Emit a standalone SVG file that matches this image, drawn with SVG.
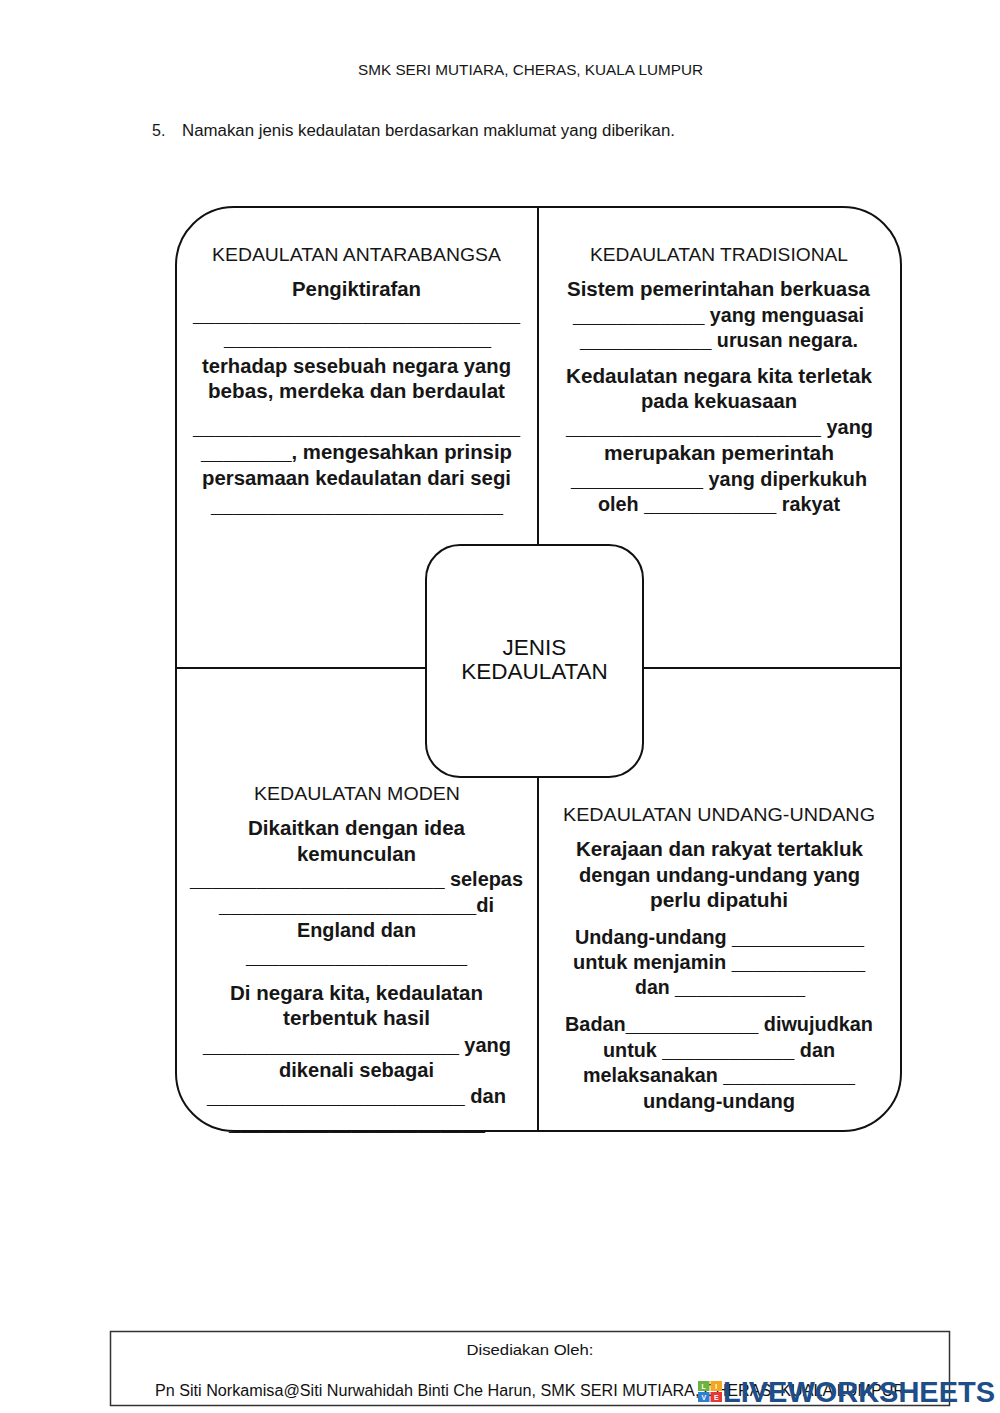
<svg xmlns="http://www.w3.org/2000/svg" width="1000" height="1413" viewBox="0 0 1000 1413">
<style>
text{font-family:"Liberation Sans",Arial,sans-serif;fill:#161616}
.h{font-size:19px;text-anchor:middle}
.b{font-size:20px;font-weight:bold;text-anchor:middle}
.c{font-size:22.5px;text-anchor:middle;fill:#111}
.ln{stroke:#111;stroke-width:2;fill:none}
.hw{font-size:15px;fill:#111}
.sq{font-size:7px;font-weight:bold;fill:#fff;text-anchor:middle}
</style>
<rect width="1000" height="1413" fill="#fff"/>
<g id="page-header">
<text x="530.5" y="75" style="font-size:15px" text-anchor="middle" textLength="345" lengthAdjust="spacingAndGlyphs">SMK SERI MUTIARA, CHERAS, KUALA LUMPUR</text>
<text x="152" y="136" style="font-size:16px">5.</text>
<text x="182" y="136" style="font-size:16px" textLength="493" lengthAdjust="spacingAndGlyphs">Namakan jenis kedaulatan berdasarkan maklumat yang diberikan.</text>
</g>
<g id="frame">
<rect x="176" y="207" width="725" height="924" rx="58" ry="58" class="ln"/>
</g>
<g id="connectors">
<line x1="538" y1="207" x2="538" y2="545" class="ln"/>
<line x1="538" y1="777" x2="538" y2="1131" class="ln"/>
<line x1="176" y1="668" x2="426" y2="668" class="ln"/>
<line x1="643" y1="668" x2="901" y2="668" class="ln"/>
</g>
<g id="node-center">
<rect x="426" y="545" width="217" height="232" rx="34" ry="34" class="ln" fill="#fff"/>
<text x="534.5" y="655" class="c">JENIS</text>
<text x="534.5" y="679" class="c">KEDAULATAN</text>
</g>
<g id="node-antarabangsa">
<text x="356.5" y="261" class="h" textLength="289" lengthAdjust="spacingAndGlyphs">KEDAULATAN ANTARABANGSA</text>
<text x="356.5" y="296" class="b" textLength="129" lengthAdjust="spacingAndGlyphs">Pengiktirafan</text>
<text x="356.5" y="321" class="b" textLength="327" lengthAdjust="spacingAndGlyphs">_____________________________</text>
<text x="357.5" y="345" class="b" textLength="267" lengthAdjust="spacingAndGlyphs">________________________</text>
<text x="356.5" y="373" class="b" textLength="309" lengthAdjust="spacingAndGlyphs">terhadap sesebuah negara yang</text>
<text x="356.5" y="398" class="b" textLength="297" lengthAdjust="spacingAndGlyphs">bebas, merdeka dan berdaulat</text>
<text x="356.5" y="434" class="b" textLength="327" lengthAdjust="spacingAndGlyphs">_____________________________</text>
<text x="356.5" y="459" class="b" textLength="311" lengthAdjust="spacingAndGlyphs">________, mengesahkan prinsip</text>
<text x="356.5" y="485" class="b" textLength="309" lengthAdjust="spacingAndGlyphs">persamaan kedaulatan dari segi</text>
<text x="357" y="512" class="b" textLength="292" lengthAdjust="spacingAndGlyphs">__________________________</text>
</g>
<g id="node-tradisional">
<text x="719" y="261" class="h" textLength="258" lengthAdjust="spacingAndGlyphs">KEDAULATAN TRADISIONAL</text>
<text x="718.5" y="296" class="b" textLength="303" lengthAdjust="spacingAndGlyphs">Sistem pemerintahan berkuasa</text>
<text x="718.5" y="322" class="b" textLength="291" lengthAdjust="spacingAndGlyphs">____________ yang menguasai</text>
<text x="719" y="347" class="b" textLength="278" lengthAdjust="spacingAndGlyphs">____________ urusan negara.</text>
<text x="719" y="383" class="b" textLength="306" lengthAdjust="spacingAndGlyphs">Kedaulatan negara kita terletak</text>
<text x="719" y="408" class="b" textLength="156" lengthAdjust="spacingAndGlyphs">pada kekuasaan</text>
<text x="719.5" y="434" class="b" textLength="307" lengthAdjust="spacingAndGlyphs">_______________________ yang</text>
<text x="719" y="460" class="b" textLength="230" lengthAdjust="spacingAndGlyphs">merupakan pemerintah</text>
<text x="719" y="486" class="b" textLength="296" lengthAdjust="spacingAndGlyphs">____________ yang diperkukuh</text>
<text x="719" y="511" class="b" textLength="242" lengthAdjust="spacingAndGlyphs">oleh ____________ rakyat</text>
</g>
<g id="node-moden">
<text x="357" y="800" class="h" textLength="206" lengthAdjust="spacingAndGlyphs">KEDAULATAN MODEN</text>
<text x="356.5" y="835" class="b" textLength="217" lengthAdjust="spacingAndGlyphs">Dikaitkan dengan idea</text>
<text x="356.5" y="861" class="b" textLength="119" lengthAdjust="spacingAndGlyphs">kemunculan</text>
<text x="356.5" y="886" class="b" textLength="333" lengthAdjust="spacingAndGlyphs">_______________________ selepas</text>
<text x="356.5" y="912" class="b" textLength="275" lengthAdjust="spacingAndGlyphs">_______________________di</text>
<text x="356.5" y="937" class="b" textLength="119" lengthAdjust="spacingAndGlyphs">England dan</text>
<text x="356.5" y="963" class="b" textLength="221" lengthAdjust="spacingAndGlyphs">____________________</text>
<text x="356.5" y="1000" class="b" textLength="253" lengthAdjust="spacingAndGlyphs">Di negara kita, kedaulatan</text>
<text x="356.5" y="1025" class="b" textLength="147" lengthAdjust="spacingAndGlyphs">terbentuk hasil</text>
<text x="357" y="1052" class="b" textLength="308" lengthAdjust="spacingAndGlyphs">_______________________ yang</text>
<text x="356.5" y="1077" class="b" textLength="155" lengthAdjust="spacingAndGlyphs">dikenali sebagai</text>
<text x="356.5" y="1103" class="b" textLength="299" lengthAdjust="spacingAndGlyphs">_______________________ dan</text>
<text x="357" y="1129.5" class="b" textLength="256" lengthAdjust="spacingAndGlyphs">_______________________</text>
</g>
<g id="node-undang-undang">
<text x="719" y="821" class="h" textLength="312" lengthAdjust="spacingAndGlyphs">KEDAULATAN UNDANG-UNDANG</text>
<text x="719.5" y="856" class="b" textLength="287" lengthAdjust="spacingAndGlyphs">Kerajaan dan rakyat tertakluk</text>
<text x="719.5" y="882" class="b" textLength="281" lengthAdjust="spacingAndGlyphs">dengan undang-undang yang</text>
<text x="719" y="907" class="b" textLength="138" lengthAdjust="spacingAndGlyphs">perlu dipatuhi</text>
<text x="719.5" y="944" class="b" textLength="289" lengthAdjust="spacingAndGlyphs">Undang-undang ____________</text>
<text x="719" y="969" class="b" textLength="292" lengthAdjust="spacingAndGlyphs">untuk menjamin ____________</text>
<text x="720" y="994" class="b" textLength="170" lengthAdjust="spacingAndGlyphs">dan ____________</text>
<text x="719" y="1031" class="b" textLength="308" lengthAdjust="spacingAndGlyphs">Badan____________ diwujudkan</text>
<text x="719" y="1057" class="b" textLength="232" lengthAdjust="spacingAndGlyphs">untuk ____________ dan</text>
<text x="719" y="1082" class="b" textLength="272" lengthAdjust="spacingAndGlyphs">melaksanakan ____________</text>
<text x="719" y="1108" class="b" textLength="152" lengthAdjust="spacingAndGlyphs">undang-undang</text>
</g>
<g id="footer">
<rect x="110.5" y="1331.5" width="839" height="74" fill="none" stroke="#333" stroke-width="1.5"/>
<text x="530" y="1355" class="hw" text-anchor="middle" textLength="127" lengthAdjust="spacingAndGlyphs">Disediakan Oleh:</text>
<text x="155" y="1396" class="hw" style="font-size:16px" textLength="750" lengthAdjust="spacingAndGlyphs">Pn Siti Norkamisa@Siti Nurwahidah Binti Che Harun, SMK SERI MUTIARA, CHERAS, KUALA LUMPUR</text>
</g>
<g id="watermark">
<rect x="698" y="1381" width="11.5" height="10" fill="#6cb33f"/>
<rect x="710.5" y="1381" width="11.5" height="10" fill="#f5a623"/>
<rect x="698" y="1392" width="11.5" height="10" fill="#2f7fd1"/>
<rect x="710.5" y="1392" width="11.5" height="10" fill="#e53935"/>
<text x="703.75" y="1388.5" class="sq">L</text>
<text x="716.25" y="1388.5" class="sq">I</text>
<text x="703.75" y="1399.5" class="sq">V</text>
<text x="716.25" y="1399.5" class="sq">E</text>
<text x="723" y="1402" style="font-size:29.5px;font-weight:bold;fill:#1d4e89" textLength="272" lengthAdjust="spacingAndGlyphs">LIVEWORKSHEETS</text>
</g>
</svg>
